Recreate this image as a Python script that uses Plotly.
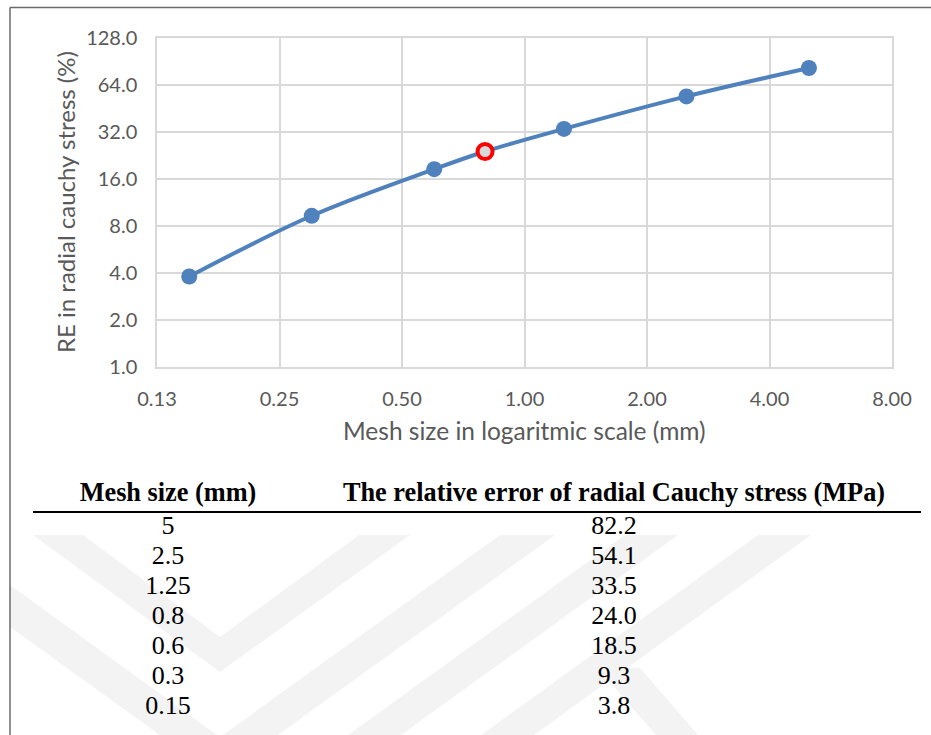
import math
import plotly.graph_objects as go

# Mesh convergence data: element size (mm) vs. relative error of radial Cauchy stress
mesh_size = [5, 2.5, 1.25, 0.8, 0.6, 0.3, 0.15]
rel_error = [82.2, 54.1, 33.5, 24.0, 18.5, 9.3, 3.8]
highlight_mesh = 0.8  # selected mesh, drawn as an open red marker

x_tickvals = [0.125, 0.25, 0.5, 1, 2, 4, 8]
x_ticktext = ["0.13", "0.25", "0.50", "1.00", "2.00", "4.00", "8.00"]
y_tickvals = [1, 2, 4, 8, 16, 32, 64, 128]
y_ticktext = ["1.0", "2.0", "4.0", "8.0", "16.0", "32.0", "64.0", "128.0"]

x_title = "Mesh size in logaritmic scale (mm)"
y_title = "RE in radial cauchy stress (%)"
table_header = ["Mesh size (mm)", "The relative error of radial Cauchy stress (MPa)"]

# ---------------------------------------------------------------- layout geometry
W, H = 931, 735
PLOT_L, PLOT_R, PLOT_T, PLOT_B = 157, 892, 38, 367
COL_CENTERS = (168, 614)      # table column centres (px)
ROW0_Y, ROW_STEP = 527, 30    # first table row centre and row pitch (px)
HEADER_Y = 494                # table header centre (px)


def fx(px):
    return px / W


def fy(py):
    return 1 - py / H


BLUE = "#4f81bd"
GRID = "#d9d9d9"
AXIS_TXT = "#595959"
SANS = "Lato"
SERIF = "Liberation Serif"

# ---------------------------------------------------------------- chart series
pts = sorted(zip(mesh_size, rel_error))
xs = [p[0] for p in pts]
ys = [p[1] for p in pts]
is_hi = [x == highlight_mesh for x in xs]

fig = go.Figure()
fig.add_trace(go.Scatter(
    x=xs, y=ys,
    mode="lines+markers",
    line=dict(color=BLUE, width=4, shape="spline", smoothing=1),
    marker=dict(
        size=[15 if h else 16 for h in is_hi],
        opacity=1,
        color=["#d9d9d9" if h else BLUE for h in is_hi],
        line=dict(color=["#ff0000" if h else BLUE for h in is_hi],
                  width=[4 if h else 0 for h in is_hi]),
    ),
    cliponaxis=False,
    hoverinfo="x+y",
    showlegend=False,
    xaxis="x", yaxis="y",
))

# ---------------------------------------------------------------- table text
cols = table_header
x2_scale = COL_CENTERS[1] - COL_CENTERS[0]
x2_lo = -COL_CENTERS[0] / x2_scale
x2_hi = x2_lo + W / x2_scale
y2_top = (0 - ROW0_Y) / ROW_STEP
y2_bot = (H - ROW0_Y) / ROW_STEP
header_row = (HEADER_Y - ROW0_Y) / ROW_STEP

n = len(mesh_size)
row_idx = list(range(n))
fig.add_trace(go.Scatter(
    x=[cols[0]] * n + [cols[1]] * n,
    y=row_idx + row_idx,
    text=[f"{v:g}" for v in mesh_size] + [f"{v:.1f}" for v in rel_error],
    mode="text",
    textposition="middle center",
    textfont=dict(family=SERIF, size=26, color="#000000"),
    hoverinfo="skip",
    showlegend=False,
    cliponaxis=False,
    xaxis="x2", yaxis="y2",
))
fig.add_trace(go.Scatter(
    x=cols,
    y=[header_row, header_row],
    text=[f"<b>{c}</b>" for c in cols],
    mode="text",
    textposition="middle center",
    textfont=dict(family=SERIF, size=26.3, color="#000000"),
    hoverinfo="skip",
    showlegend=False,
    cliponaxis=False,
    xaxis="x2", yaxis="y2",
))

# ---------------------------------------------------------------- decorative shapes
shapes = []


def poly(points, color="#f3f3f3"):
    path = "M " + " L ".join(f"{fx(px):.5f},{fy(py):.5f}" for px, py in points) + " Z"
    return dict(type="path", path=path, xref="paper", yref="paper",
                fillcolor=color, line=dict(width=0), layer="below")


TOP = 535
shapes += [
    poly([(33, TOP), (83, TOP), (220, 637), (359, TOP), (410, TOP), (220, 672)]),
    poly([(10, 585), (217, 735), (160, 735), (10, 627)]),
    poly([(500, TOP), (555, TOP), (278, 735), (223, 735)]),
    poly([(625, TOP), (678, TOP), (401, 735), (348, 735)]),
    poly([(758, TOP), (811, TOP), (534, 735), (481, 735)]),
    poly([(598, 668), (640, 668), (698, 735), (656, 735)]),
]
# rule under the table header
shapes.append(dict(type="line", xref="paper", yref="paper",
                   x0=fx(33), x1=fx(921), y0=fy(512), y1=fy(512),
                   line=dict(color="#000000", width=2)))
# outer frame (top and left edges)
shapes.append(dict(type="line", xref="paper", yref="paper",
                   x0=fx(10), x1=fx(W), y0=fy(7.5), y1=fy(7.5),
                   line=dict(color="#6a6a6a", width=1.5)))
shapes.append(dict(type="line", xref="paper", yref="paper",
                   x0=fx(10), x1=fx(10), y0=fy(7.5), y1=fy(H),
                   line=dict(color="#6a6a6a", width=1.5)))

annotations = [
    dict(text=x_title, xref="paper", yref="paper", x=fx(524), y=fy(430),
         xanchor="center", yanchor="middle", showarrow=False,
         font=dict(family=SANS, size=24.5, color=AXIS_TXT)),
    dict(text=y_title, xref="paper", yref="paper", x=fx(65), y=fy(202),
         xanchor="center", yanchor="middle", showarrow=False, textangle=-90,
         font=dict(family=SANS, size=24, color=AXIS_TXT)),
]

fig.update_layout(
    width=W, height=H,
    margin=dict(l=0, r=0, t=0, b=0, pad=0),
    paper_bgcolor="#ffffff",
    plot_bgcolor="rgba(0,0,0,0)",
    showlegend=False,
    xaxis=dict(
        type="log", domain=[fx(PLOT_L), fx(PLOT_R)],
        range=[math.log10(x_tickvals[0]), math.log10(x_tickvals[-1])],
        tickmode="array", tickvals=x_tickvals, ticktext=x_ticktext,
        showgrid=True, gridcolor=GRID, gridwidth=1.5,
        showline=True, linecolor=GRID, linewidth=1.5, mirror=True,
        ticks="", ticklabelstandoff=13,
        tickfont=dict(family=SANS, size=20, color=AXIS_TXT),
        automargin=False, zeroline=False, anchor="y",
    ),
    yaxis=dict(
        type="log", domain=[fy(PLOT_B), fy(PLOT_T)],
        range=[math.log10(y_tickvals[0]), math.log10(y_tickvals[-1])],
        tickmode="array", tickvals=y_tickvals, ticktext=y_ticktext,
        showgrid=True, gridcolor=GRID, gridwidth=1.5,
        showline=True, linecolor=GRID, linewidth=1.5, mirror=True,
        ticks="", ticklabelstandoff=14,
        tickfont=dict(family=SANS, size=20, color=AXIS_TXT),
        automargin=False, zeroline=False, anchor="x",
    ),
    xaxis2=dict(
        type="category", categoryorder="array", categoryarray=cols,
        domain=[0, 1], range=[x2_lo, x2_hi], visible=False,
        anchor="y2", automargin=False,
    ),
    yaxis2=dict(
        domain=[0, 1], range=[y2_bot, y2_top], visible=False,
        anchor="x2", automargin=False,
    ),
    shapes=shapes,
    annotations=annotations,
)

fig.write_html("out.html")
